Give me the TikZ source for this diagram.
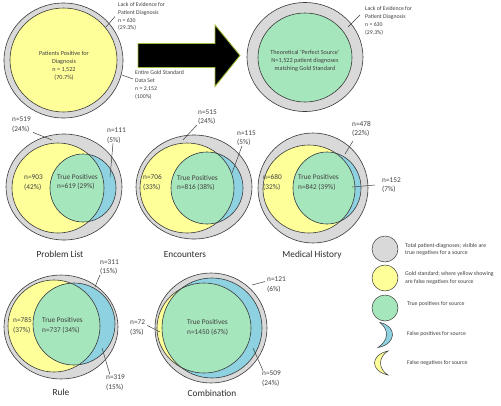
\documentclass[tikz,border=0pt]{standalone}
\usepackage{fontspec}
\setmainfont{Carlito}
\definecolor{grayc}{HTML}{D9D9D9}
\definecolor{yelc}{HTML}{FFFF99}
\definecolor{grnc}{HTML}{A6E6BC}
\definecolor{bluc}{HTML}{8ED2E2}
\definecolor{outc}{HTML}{3A3A3A}
\definecolor{txt}{HTML}{404040}
\definecolor{ttlc}{HTML}{2A2A2A}
\definecolor{arrb}{HTML}{9CBA3A}
\tikzset{
  outl/.style={draw=outc, line width=0.6pt},
  sm/.style={font=\fontsize{5.8}{7.9}\selectfont, text=txt, inner sep=0pt, align=left},
  smc/.style={font=\fontsize{6.2}{8.1}\selectfont, text=txt, inner sep=0pt, align=center},
  md/.style={font=\fontsize{7.3}{9.6}\selectfont, text=txt, inner sep=0pt, align=left},
  ttl/.style={font=\fontsize{9.3}{11}\selectfont, text=ttlc, inner sep=0pt},
  lgt/.style={font=\fontsize{5.8}{7.5}\selectfont, text=txt, inner sep=0pt, align=left},
  lead/.style={draw=txt, line width=0.5pt},
  lgc/.style={circle, minimum size=26pt, inner sep=0pt, draw=outc, line width=0.5pt}
}
\begin{document}
\begin{tikzpicture}[x=1pt,y=-1pt]
\useasboundingbox (0,0) rectangle (501,405);
\fill[white] (0,0) rectangle (501,405);

% ---------- top left circle
\fill[grayc] (63.5,60.5) ellipse [x radius=59.5pt, y radius=57.5pt];
\draw[outl] (63.5,60.5) ellipse [x radius=59.5pt, y radius=57.5pt];
\fill[yelc] (63.5,60) ellipse [x radius=53.5pt, y radius=52pt];
\draw[outl] (63.5,60) ellipse [x radius=53.5pt, y radius=52pt];
\node[smc] (tlIn) at (64,65.5) {Patients Positive for\\Diagnosis\\n = 1,522\\(70.7\%)};
\node[sm, anchor=west] (tlLack) at (118,16.5) {Lack of Evidence for\\Patient Diagnosis\\n = 630\\(29.3\%)};
\node[sm, anchor=west] (tlEntire) at (135,85) {Entire Gold Standard\\Data Set\\n = 2,152\\(100\%)};
\coordinate (tlLackPt) at (106,27);
\coordinate (tlEntirePt) at (122,75);
\draw[lead] ([xshift=-3pt]tlLack.west) -- (tlLackPt);
\draw[lead] ([shift={(-2,-6)}]tlEntire.west) -- (tlEntirePt);

% ---------- arrow
\filldraw[fill=black, draw=arrb, line width=0.9pt, line join=miter]
  (138,43.5) -- (215,43.5) -- (215,25) -- (240,55.5) -- (215,86.5) -- (215,67.5) -- (138,67.5) -- cycle;

% ---------- top right circle
\fill[grayc] (305,57) ellipse [x radius=58pt, y radius=54.5pt];
\draw[outl] (305,57) ellipse [x radius=58pt, y radius=54.5pt];
\fill[grnc] (305,57.5) ellipse [x radius=47pt, y radius=44.5pt];
\draw[outl] (305,57.5) ellipse [x radius=47pt, y radius=44.5pt];
\node[smc] (trIn) at (305,61) {Theoretical `Perfect Source'\\N=1,522 patient diagnoses\\matching Gold Standard};
\node[sm, anchor=west] (trLack) at (365,21) {Lack of Evidence for\\Patient Diagnosis\\n = 630\\(29.3\%)};
\coordinate (trLackPt) at (348,27);
\draw[lead] ([shift={(-5,-6)}]trLack.west) -- (trLackPt);

% ---------- Venn diagrams
\foreach \gx/\gy/\grx/\gry/\yx/\yy/\yrx/\yry/\bx/\by/\brx/\bry in {
  64/187/58/53/58/188/46/45/83/188/33/34,
  194/187/58/52/187/188/47/45/207/188/36/36,
  313/188/55/55/309/189/46/44/327/188/34/36,
  61/327/57/52/54/326/46/46/74/324/41/41,
  211/328/56/55/204/328/47/45/212/328/50/50}{
  \fill[grayc] (\gx,\gy) ellipse [x radius=\grx pt, y radius=\gry pt];
  \fill[yelc] (\yx,\yy) ellipse [x radius=\yrx pt, y radius=\yry pt];
  \fill[bluc] (\bx,\by) ellipse [x radius=\brx pt, y radius=\bry pt];
  \begin{scope}
    \clip (\yx,\yy) ellipse [x radius=\yrx pt, y radius=\yry pt];
    \fill[grnc] (\bx,\by) ellipse [x radius=\brx pt, y radius=\bry pt];
  \end{scope}
  \draw[outl] (\gx,\gy) ellipse [x radius=\grx pt, y radius=\gry pt];
  \draw[outl] (\yx,\yy) ellipse [x radius=\yrx pt, y radius=\yry pt];
  \draw[outl] (\bx,\by) ellipse [x radius=\brx pt, y radius=\bry pt];
}

% Problem List
\node[md, anchor=west] (pl519) at (12,124.5) {n=519\\(24\%)};
\node[md, anchor=west] (pl111) at (107,135.5) {n=111\\(5\%)};
\node[md, anchor=west] (pl903) at (24,182.5) {n=903\\(42\%)};
\node[md, anchor=west] (pltp) at (57,182) {True Positives\\n=619 (29\%)};
\node[ttl] (plT) at (60,254) {Problem List};
\coordinate (pl519Pt) at (52,140);
\coordinate (pl111Pt) at (110,177);
\draw[lead] ([xshift=2pt]pl519.south east) -- (pl519Pt);
\draw[lead] ([xshift=6pt]pl111.south west) -- (pl111Pt);

% Encounters
\node[md, anchor=west] (en515) at (198,117) {n=515\\(24\%)};
\node[md, anchor=west] (en115) at (237,138) {n=115\\(5\%)};
\node[md, anchor=west] (en706) at (143,182.5) {n=706\\(33\%)};
\node[md, anchor=west] (entp) at (177,183) {True Positives\\n=816 (38\%)};
\node[ttl] (enT) at (185,255) {Encounters};
\coordinate (en515Pt) at (183,140);
\coordinate (en115Pt) at (232,173);
\draw[lead] ([xshift=-1pt]en515.south west) -- (en515Pt);
\draw[lead] ([xshift=5pt]en115.south west) -- (en115Pt);

% Medical History
\node[md, anchor=west] (mh478) at (352,129) {n=478\\(22\%)};
\node[md, anchor=west] (mh152) at (382,185) {n=152\\(7\%)};
\node[md, anchor=west] (mh680) at (263,182.5) {n=680\\(32\%)};
\node[md, anchor=west] (mhtp) at (298,182.5) {True Positives\\n=842 (39\%)};
\node[ttl] (mhT) at (312,255) {Medical History};
\coordinate (mh478Pt) at (345,154);
\coordinate (mh152Pt) at (352,187);
\draw[lead] ([shift={(1,4)}]mh478.south west) -- (mh478Pt);
\draw[lead] ([xshift=-7pt]mh152.west) -- (mh152Pt);

% Rule
\node[md, anchor=west] (ru311) at (100,267) {n=311\\(15\%)};
\node[md, anchor=west] (ru785) at (13,325.5) {n=785\\(37\%)};
\node[md, anchor=west] (rutp) at (42,325.5) {True Positives\\n=737 (34\%)};
\node[md, anchor=west] (ru319) at (106,382.5) {n=319\\(15\%)};
\node[ttl] (ruT) at (61,392) {Rule};
\coordinate (ru311Pt) at (95,287);
\coordinate (ru319Pt) at (102,348);
\draw[lead] (ru311.south west) -- (ru311Pt);
\draw[lead] ([xshift=4pt]ru319.north west) -- (ru319Pt);

% Combination
\node[md, anchor=west] (co121) at (267,284.5) {n=121\\(6\%)};
\node[md, anchor=west] (co72) at (130,327.5) {n=72\\(3\%)};
\node[md, anchor=west] (cotp) at (187,327.5) {True Positives\\n=1450 (67\%)};
\node[md, anchor=west] (co509) at (262,378.5) {n=509\\(24\%)};
\node[ttl] (coT) at (212,393) {Combination};
\coordinate (co121Pt) at (252,285);
\coordinate (co72Pt) at (160,332);
\coordinate (co509Pt) at (253,348);
\draw[lead] ([shift={(-2,-3)}]co121.west) -- (co121Pt);
\draw[lead] ([shift={(2,-2)}]co72.east) -- (co72Pt);
\draw[lead] ([xshift=1pt]co509.north west) -- (co509Pt);

% ---------- legend
\node[lgc, fill=grayc] (lg1) at (385,249) {};
\node[lgc, fill=yelc] (lg2) at (385,278) {};
\node[lgc, fill=grnc] (lg3) at (385,308) {};
\filldraw[fill=bluc, draw=outc, line width=0.5pt]
  (380,322.5) .. controls (397,326) and (397,344) .. (378,347.5)
  .. controls (389,340) and (389,330) .. (380,322.5) -- cycle;
\filldraw[fill=yelc, draw=outc, line width=0.5pt]
  (388,351) .. controls (370,355) and (370,371) .. (388,375)
  .. controls (378,369) and (378,357) .. (388,351) -- cycle;
\node[lgt, anchor=west] (lt1) at (405,249.5) {Total patient-diagnoses; visible are\\true negatives for a source};
\node[lgt, anchor=west] (lt2) at (405,278) {Gold standard; where yellow showing\\are false negatives for source};
\node[lgt, anchor=west] (lt3) at (407,304) {True positives for source};
\node[lgt, anchor=west] (lt4) at (407,334) {False positives for source};
\node[lgt, anchor=west] (lt5) at (407,363) {False negatives for source};
\end{tikzpicture}
\end{document}
